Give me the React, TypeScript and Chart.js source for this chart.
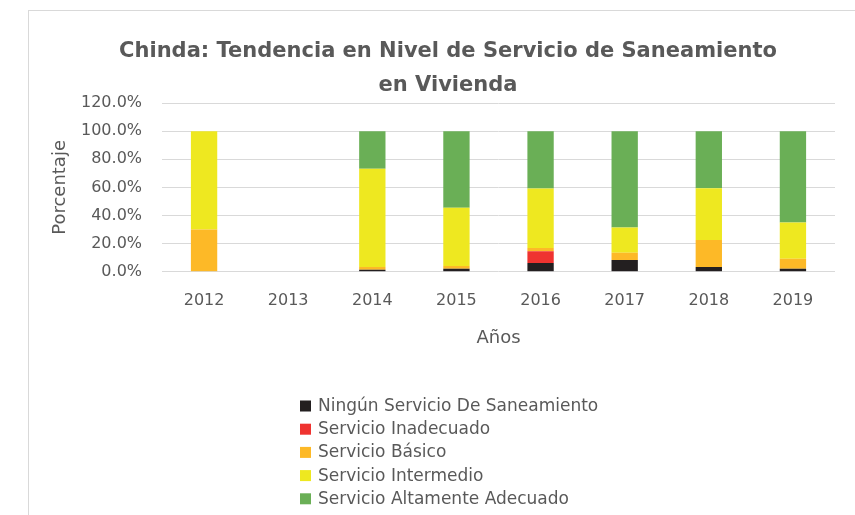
import React, { useEffect, useRef } from "react";
import { Chart, registerables } from "chart.js";

Chart.register(...registerables);

const years = ["2012", "2013", "2014", "2015", "2016", "2017", "2018", "2019"];
const ningun = [0, null, 1.5, 2.1, 6.3, 8.4, 3.5, 2.1];
const inadecuado = [0, null, 0, 0, 8.4, 0, 0, 0];
const basico = [30, null, 2.0, 2.1, 2.3, 5.1, 19.1, 7.2];
const intermedio = [70, null, 69.7, 41.3, 42.2, 18.0, 36.8, 25.7];
const altamente = [0, null, 26.8, 54.5, 40.8, 68.5, 40.6, 65.0];
const yTicks = [0, 20, 40, 60, 80, 100, 120];

const seriesNames = [
  "Ningún Servicio De Saneamiento",
  "Servicio Inadecuado",
  "Servicio Básico",
  "Servicio Intermedio",
  "Servicio Altamente Adecuado",
];
const seriesColors = ["#231F20", "#EF3330", "#FDB927", "#EEE820", "#6AAF56"];
const yTitle = "Porcentaje";

const FONT = "'DejaVu Sans', sans-serif";
const GRAY = "#595959";

const frameAndLegend = {
  id: "frameAndLegend",
  beforeDraw(chart: any) {
    const ctx = chart.ctx;
    ctx.save();
    ctx.strokeStyle = "#D9D9D9";
    ctx.lineWidth = 1;
    ctx.strokeRect(28.5, 10.5, 900, 600);
    ctx.restore();
  },
  afterDraw(chart: any) {
    const ctx = chart.ctx;
    const area = chart.chartArea;
    ctx.save();
    // y-axis title
    ctx.font = `18px ${FONT}`;
    ctx.fillStyle = GRAY;
    ctx.textAlign = "center";
    ctx.textBaseline = "middle";
    ctx.translate(60, (area.top + area.bottom) / 2);
    ctx.rotate(-Math.PI / 2);
    ctx.fillText(yTitle, 0, 0);
    ctx.restore();

    ctx.save();
    ctx.font = `17px ${FONT}`;
    ctx.textBaseline = "middle";
    const x0 = 300;
    const y0 = 406;
    const step = 23.2;
    chart.data.datasets.forEach((ds: any, i: number) => {
      const y = y0 + i * step;
      ctx.fillStyle = ds.backgroundColor;
      ctx.fillRect(x0, y - 5.5, 11, 11);
      ctx.fillStyle = GRAY;
      ctx.fillText(ds.label, x0 + 18, y + 0.5);
    });
    ctx.restore();
  },
};

export default function App() {
  const ref = useRef<HTMLCanvasElement>(null);
  useEffect(() => {
    document.body.style.margin = "0";
    const seriesData = [ningun, inadecuado, basico, intermedio, altamente];
    const chart = new Chart(ref.current!, {
      type: "bar",
      data: {
        labels: years,
        datasets: seriesNames.map((name, i) => ({
          label: name,
          data: seriesData[i] as any,
          backgroundColor: seriesColors[i],
          borderWidth: 0,
          categoryPercentage: 1,
          barPercentage: 0.313,
        })),
      },
      options: {
        animation: false,
        responsive: false,
        layout: { padding: { top: 35, left: 61, right: 20, bottom: 168 } },
        plugins: {
          legend: { display: false },
          tooltip: { enabled: false },
          title: {
            display: true,
            text: [
              "Chinda: Tendencia en Nivel de Servicio de Saneamiento",
              "en Vivienda",
            ],
            color: GRAY,
            font: { family: FONT, size: 21, weight: "bold", lineHeight: 1.62 },
            padding: { top: 0, bottom: 0 },
          },
        },
        scales: {
          x: {
            stacked: true,
            grid: { display: false, drawTicks: false },
            border: { display: false },
            ticks: { color: GRAY, font: { family: FONT, size: 16 }, padding: 19 },
            title: {
              display: true,
              text: "Años",
              color: GRAY,
              font: { family: FONT, size: 18, lineHeight: 1 },
              padding: { top: 0, bottom: 0 },
            },
          },
          y: {
            stacked: true,
            min: 0,
            max: 120,
            afterBuildTicks(axis: any) {
              axis.ticks = yTicks.map((v) => ({ value: v }));
            },
            grid: { color: "#D9D9D9", drawTicks: false, lineWidth: 1 },
            border: { display: false },
            ticks: {
              color: GRAY,
              font: { family: FONT, size: 16 },
              padding: 20,
              callback: (v: any) => Number(v).toFixed(1) + "%",
            },
            title: { display: false },
          },
        },
      },
      plugins: [frameAndLegend],
    });
    return () => chart.destroy();
  }, []);
  return (
    <div style={{ width: 855, height: 515, background: "#fff" }}>
      <canvas ref={ref} width={855} height={515} />
    </div>
  );
}
